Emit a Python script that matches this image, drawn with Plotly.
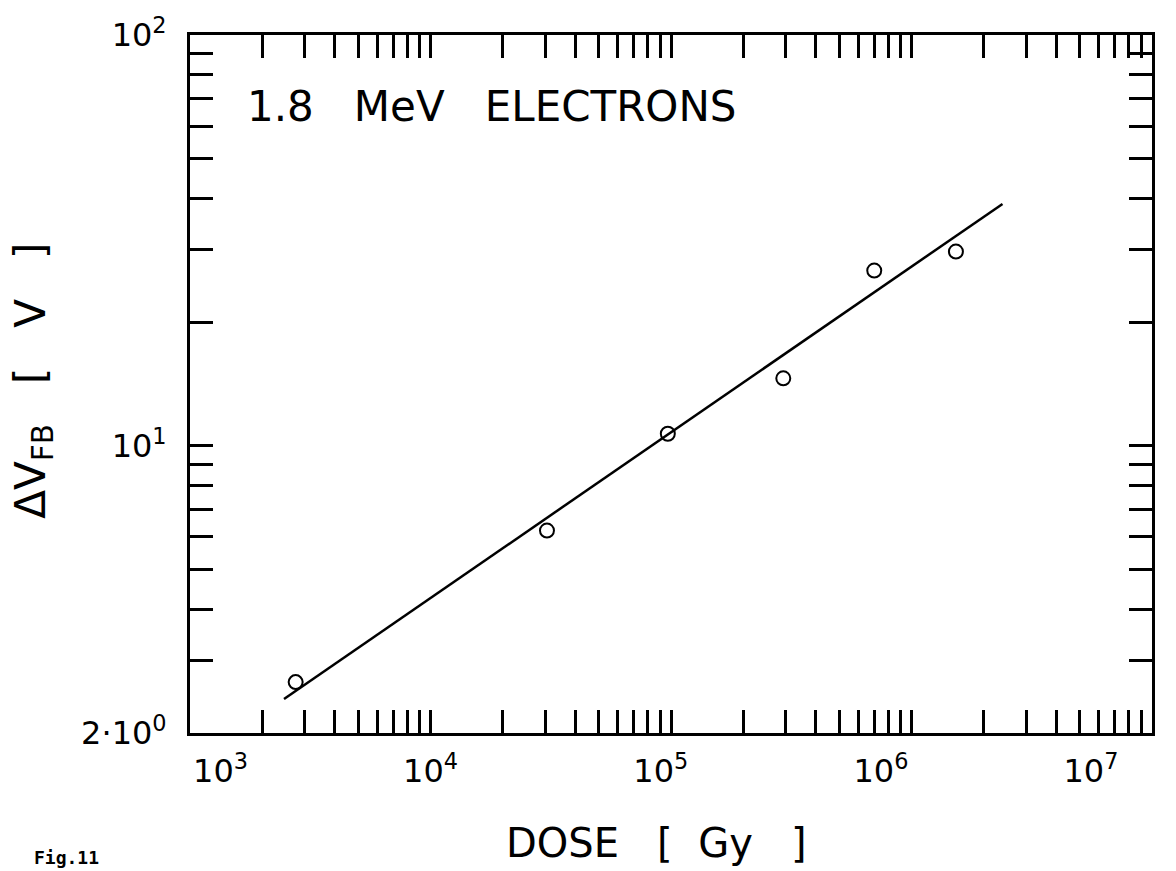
import plotly.graph_objects as go

# ---- data ----
dose = [2.75e3, 3.05e4, 9.7e4, 2.93e5, 7.0e5, 1.53e6]          # Gy
dvfb = [2.66, 6.22, 10.7, 14.6, 26.7, 29.7]                      # V
fit_dose = [2.46e3, 2.39e6]
fit_dvfb = [2.42, 38.8]

NB = "\u00a0"
x_tickvals = [m * 10 ** e for e in range(3, 7) for m in range(1, 10)] + [10 ** 7]
x_labels = {10 ** 3: NB * 6 + "10<sup>3</sup>", 10 ** 4: "10<sup>4</sup>",
            10 ** 5: "10<sup>5</sup>" + NB * 2, 10 ** 6: "10<sup>6</sup>" + NB * 6,
            10 ** 7: "10<sup>7</sup>" + NB * 12}
x_ticktext = [x_labels.get(v, "") for v in x_tickvals]

y_tickvals = [2, 3, 4, 5, 6, 7, 8, 9, 10, 20, 30, 40, 50, 60, 70, 80, 90, 100]
y_labels = {2: "2·10<sup>0</sup>", 10: "10<sup>1</sup>", 100: "10<sup>2</sup>"}
y_ticktext = [y_labels.get(v, "") for v in y_tickvals]

FONT = "DejaVu Sans"

fig = go.Figure()
fig.add_trace(go.Scatter(x=fit_dose, y=fit_dvfb, mode="lines",
                         line=dict(color="black", width=2.5), showlegend=False))
fig.add_trace(go.Scatter(x=dose, y=dvfb, mode="markers",
                         marker=dict(symbol="circle-open", size=14, color="black",
                                     line=dict(width=2, color="black")),
                         showlegend=False))

axis_common = dict(showline=True, linecolor="black", linewidth=3, mirror="ticks",
                   ticks="inside", ticklen=23, tickwidth=2.5, tickcolor="black",
                   showgrid=False, zeroline=False, ticklabeloverflow="allow",
                   tickfont=dict(family=FONT, size=32, color="black"))

fig.update_xaxes(type="log", range=[3, 7], tickmode="array",
                 tickvals=x_tickvals, ticktext=x_ticktext,
                 ticklabelstandoff=8, **axis_common)
fig.update_yaxes(type="log", range=[0.30103, 2], tickmode="array",
                 tickvals=y_tickvals, ticktext=y_ticktext,
                 ticklabelstandoff=14, **axis_common)

fig.update_layout(
    width=1176, height=871,
    margin=dict(l=190, r=24, t=35, b=138, autoexpand=False),
    paper_bgcolor="white", plot_bgcolor="white",
    annotations=[
        dict(text="1.8" + NB * 3 + "MeV" + NB * 3 + "ELECTRONS", xref="paper", yref="paper",
             x=0.057, y=0.897, xanchor="left", yanchor="middle", showarrow=False,
             font=dict(family=FONT, size=42, color="black")),
        dict(text="ΔV<sub>FB</sub>" + NB * 3 + "[" + NB * 3 + "V" + NB * 3 + "]",
             xref="paper", yref="paper", x=-0.163, y=0.505, textangle=-90,
             xanchor="center", yanchor="middle", showarrow=False,
             font=dict(family=FONT, size=42, color="black")),
        dict(text="DOSE" + NB * 3 + "[" + NB * 2 + "Gy" + NB * 3 + "]", xref="paper", yref="paper",
             x=0.4854, y=-0.158, xanchor="center", yanchor="middle", showarrow=False,
             font=dict(family=FONT, size=40, color="black")),
        dict(text="<b>Fig.11</b>", xref="paper", yref="paper",
             x=-0.1642, y=-0.179, xanchor="left", yanchor="middle", showarrow=False,
             font=dict(family="DejaVu Sans Mono", size=18, color="black")),
    ],
)

fig.write_html("out.html")
